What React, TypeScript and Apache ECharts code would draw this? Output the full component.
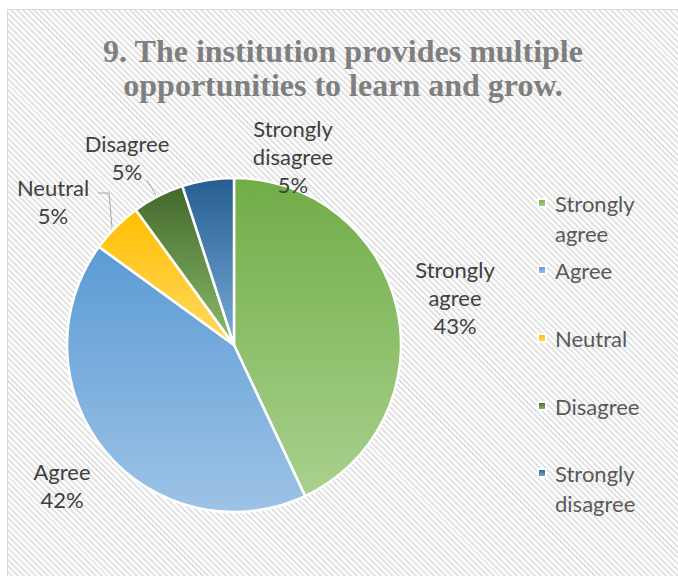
import React, { useEffect, useRef } from "react";
import * as echarts from "echarts";

// ---- data ----
const categories = ["Strongly agree", "Agree", "Neutral", "Disagree", "Strongly disagree"];
const values = [43, 42, 5, 5, 5];
const titleText = "9. The institution provides multiple\nopportunities to learn and grow.";

// ---- styles / layout (kept separate from data) ----
const gradientStops: [string, string][] = [
  ["#70AD47", "#A9D18E"],
  ["#5B9BD5", "#9DC3E6"],
  ["#FFBF00", "#FFD966"],
  ["#43682B", "#8CBC6C"],
  ["#255E91", "#7AAAD8"],
];
const CENTER = [226, 335];
const RADIUS = 167;
const labelOffsets: [number, number][] = [
  [221, -48],
  [-172, 140],
  [-181, -144],
  [-107, -188],
  [59, -189],
];
const leaderLines: ([number, number][] | null)[] = [
  null,
  null,
  [[-122, -117], [-125, -152], [-136, -152]],
  [[-78, -150], [-83, -158], [-87, -165]],
  null,
];
const legendCenters = [193, 260, 328, 396, 463];
const FONT = "Lato";

const wrapName = (n: string) => n.replace(" ", "\n");

export default function App() {
  const ref = useRef<HTMLDivElement>(null);

  useEffect(() => {
    if (!ref.current) return;
    const chart = echarts.init(ref.current, null, { renderer: "svg" });

    const data = categories.map((name, i) => ({
      name,
      value: values[i],
      itemStyle: {
        color: new echarts.graphic.LinearGradient(0, 0, 0, 1, [
          { offset: 0, color: gradientStops[i][0] },
          { offset: 1, color: gradientStops[i][1] },
        ]),
      },
      labelLine: { show: !!leaderLines[i] },
    }));

    const legends = categories.map((c, i) => {
      const twoLine = c.includes(" ");
      return {
        data: [c],
        orient: "vertical",
        left: 529,
        top: legendCenters[i] - (twoLine ? 45 : 15),
        padding: 0,
        itemWidth: 8,
        itemHeight: 8,
        icon: "rect",
        selectedMode: false,
        formatter: (n: string) => (n.includes(" ") ? "\n" + wrapName(n) : n),
        textStyle: {
          fontFamily: FONT,
          fontSize: 22,
          lineHeight: 30,
          color: "#595959",
          padding: [0, 0, 0, 4],
        },
      };
    });

    chart.setOption({
      animation: false,
      backgroundColor: "transparent",
      title: {
        text: titleText,
        left: "center",
        top: 24,
        padding: 0,
        textStyle: {
          fontFamily: "Liberation Serif",
          fontWeight: "bold",
          fontSize: 32,
          lineHeight: 34,
          color: "#7F7F7F",
        },
      },
      legend: legends,
      series: [
        {
          type: "pie",
          center: CENTER,
          radius: RADIUS,
          startAngle: 90,
          clockwise: true,
          avoidLabelOverlap: false,
          emphasis: { disabled: true },
          itemStyle: { borderColor: "#FFFFFF", borderWidth: 2.5 },
          label: {
            show: true,
            position: "outside",
            fontFamily: FONT,
            fontSize: 22,
            lineHeight: 28,
            color: "#404040",
            formatter: (p: any) => `${wrapName(p.name)}\n${p.percent}%`,
          },
          labelLine: {
            lineStyle: { color: "#A6A6A6", width: 1 },
          },
          labelLayout: (params: any) => {
            const i = params.dataIndex;
            const o = labelOffsets[i];
            const res: any = {
              x: CENTER[0] + o[0],
              y: CENTER[1] + o[1],
              align: "center",
              verticalAlign: "middle",
            };
            const l = leaderLines[i];
            if (l) res.labelLinePoints = l.map((p) => [CENTER[0] + p[0], CENTER[1] + p[1]]);
            return res;
          },
          data,
        },
      ],
    });

    return () => chart.dispose();
  }, []);

  return (
    <div
      style={{
        position: "absolute",
        left: 7,
        top: 9,
        width: 671,
        height: 567,
        boxSizing: "border-box",
        borderLeft: "1px solid #d9d9d9",
        borderTop: "1px solid #d9d9d9",
        background:
          "repeating-linear-gradient(45deg, #ffffff 0px, #ffffff 2.1px, #e4e4e4 2.1px, #e4e4e4 4.2px)",
        overflow: "hidden",
      }}
    >
      <div ref={ref} style={{ width: 670, height: 566 }} />
    </div>
  );
}
